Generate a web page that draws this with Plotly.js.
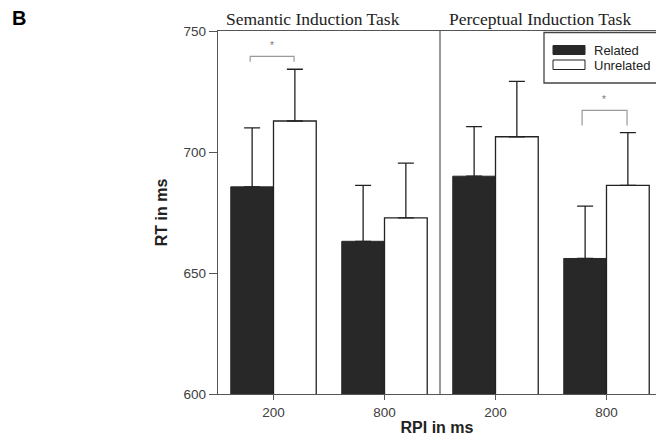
<!DOCTYPE html>
<html>
<head>
<meta charset="utf-8">
<script src="https://cdn.plot.ly/plotly-3.0.1.min.js"></script>
<style>html,body{margin:0;padding:0;background:#fff;}#chart{width:656px;height:438px;}</style>
</head>
<body>
<div id="chart"></div>
<script>
// Data
const tasks = ["Semantic Induction Task", "Perceptual Induction Task"];
const rpiLabels = ["200", "800", "200", "800"];
const conditionIndex = [0, 1, 2, 3];
const relatedRT = [685.6, 663.1, 690.0, 656.0];
const relatedErr = [24.4, 23.1, 20.5, 21.6];
const unrelatedRT = [712.8, 672.8, 706.3, 686.2];
const unrelatedErr = [21.4, 22.6, 22.9, 21.8];
const seriesNames = ["Related", "Unrelated"];

const sansFont = "Liberation Sans, Arial, sans-serif";
const serifFont = "Liberation Serif, Times New Roman, serif";

const traces = [
  {
    type: "bar", name: seriesNames[0], x: conditionIndex, y: relatedRT,
    marker: {color: "#282828", line: {color: "#282828", width: 1}},
    error_y: {type: "data", symmetric: false, array: relatedErr, arrayminus: relatedErr.map(() => 0),
      color: "#222", thickness: 1.3, width: 8},
    showlegend: false
  },
  {
    type: "bar", name: seriesNames[1], x: conditionIndex, y: unrelatedRT,
    marker: {color: "#ffffff", line: {color: "#222", width: 1.3}},
    error_y: {type: "data", symmetric: false, array: unrelatedErr, arrayminus: unrelatedErr.map(() => 0),
      color: "#222", thickness: 1.3, width: 8},
    showlegend: false
  }
];

const W = 656, H = 438, mL = 218, mR = 0, mT = 31, mB = 44;
const pw = W - mL - mR, ph = H - mT - mB;
const px = v => (v - mL) / pw;
const py = v => (H - mB - v) / ph;

const bracketColor = "#999";
const shapes = [
  // divider between tasks
  {type: "line", xref: "x", yref: "paper", x0: 1.5, x1: 1.5, y0: 0, y1: 1, line: {color: "#555", width: 1.2}},
  // significance brackets
  {type: "path", xref: "x", yref: "y", path: "M -0.21,737.3 L -0.21,739.5 L 0.185,739.5 L 0.185,737.3", line: {color: bracketColor, width: 1.2}},
  {type: "path", xref: "x", yref: "y", path: "M 2.78,711.0 L 2.78,717.2 L 3.185,717.2 L 3.185,711.0", line: {color: bracketColor, width: 1.2}},
  // legend box and swatches
  {type: "rect", xref: "paper", yref: "paper", x0: px(544), x1: px(660), y0: py(83), y1: py(32.5), line: {color: "#444", width: 1.3}, fillcolor: "#fff", layer: "above"},
  {type: "rect", xref: "paper", yref: "paper", x0: px(553), x1: px(585), y0: py(54.5), y1: py(45.5), line: {color: "#282828", width: 1}, fillcolor: "#282828", layer: "above"},
  {type: "rect", xref: "paper", yref: "paper", x0: px(553), x1: px(585), y0: py(69.5), y1: py(60), line: {color: "#222", width: 1}, fillcolor: "#fff", layer: "above"}
];

const annotations = [
  {text: "<b>B</b>", xref: "paper", yref: "paper", x: px(10), y: py(18), xanchor: "left", yanchor: "middle", showarrow: false,
    font: {family: sansFont, size: 20, color: "#000"}},
  {text: tasks[0], xref: "x", yref: "paper", x: 0.36, y: py(19), xanchor: "center", yanchor: "middle", showarrow: false,
    font: {family: serifFont, size: 17.5, color: "#222"}},
  {text: tasks[1], xref: "x", yref: "paper", x: 2.40, y: py(19), xanchor: "center", yanchor: "middle", showarrow: false,
    font: {family: serifFont, size: 17.5, color: "#222"}},
  {text: "*", xref: "x", yref: "y", x: -0.01, y: 741, xanchor: "center", yanchor: "bottom", showarrow: false,
    font: {family: sansFont, size: 10, color: "#777"}},
  {text: "*", xref: "x", yref: "y", x: 2.98, y: 718.5, xanchor: "center", yanchor: "bottom", showarrow: false,
    font: {family: sansFont, size: 10, color: "#777"}},
  {text: seriesNames[0], xref: "paper", yref: "paper", x: px(592), y: py(50.5), xanchor: "left", yanchor: "middle", showarrow: false,
    font: {family: sansFont, size: 13, color: "#222"}},
  {text: seriesNames[1], xref: "paper", yref: "paper", x: px(592), y: py(65.5), xanchor: "left", yanchor: "middle", showarrow: false,
    font: {family: sansFont, size: 13, color: "#222"}}
];

const layout = {
  width: W, height: H,
  margin: {l: mL, r: mR, t: mT, b: mB, pad: 0},
  paper_bgcolor: "#fff", plot_bgcolor: "#fff",
  barmode: "group", bargap: 0.23, bargroupgap: 0,
  showlegend: false,
  xaxis: {
    range: [-0.5, 3.446], tickmode: "array", tickvals: conditionIndex, ticktext: rpiLabels,
    showline: true, linecolor: "#555", linewidth: 1.3, mirror: true,
    ticks: "outside", ticklen: 5, tickwidth: 1, tickcolor: "#555",
    showgrid: false, zeroline: false,
    tickfont: {family: sansFont, size: 13.5, color: "#404040"},
    title: {text: "<b>RPI in ms</b>", font: {family: sansFont, size: 16, color: "#222"}, standoff: 3}
  },
  yaxis: {
    range: [600, 750], tickvals: [600, 650, 700, 750],
    showline: true, linecolor: "#555", linewidth: 1.3,
    ticks: "outside", ticklen: 8, tickwidth: 1, tickcolor: "#555",
    showgrid: false, zeroline: false,
    tickfont: {family: sansFont, size: 13.5, color: "#404040"},
    title: {text: "<b>RT in ms</b>", font: {family: sansFont, size: 16, color: "#222"}, standoff: 12}
  },
  shapes: shapes,
  annotations: annotations
};

Plotly.newPlot("chart", traces, layout, {displayModeBar: false, staticPlot: true});
</script>
</body>
</html>
